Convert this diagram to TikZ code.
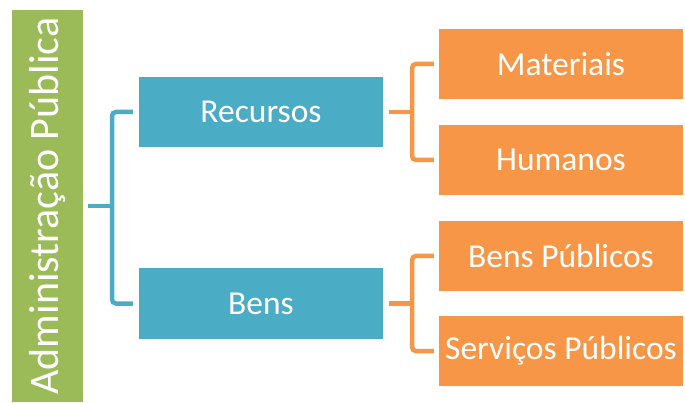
\documentclass[tikz,border=0pt]{standalone}
\usepackage{fontspec}
\setmainfont{Carlito}
\usepackage{tikz}
\usetikzlibrary{calc,positioning}

\definecolor{ofgreen}{HTML}{9BBB59}
\definecolor{ofaqua}{HTML}{4BACC6}
\definecolor{oforange}{HTML}{F79646}

\tikzset{
  rootbox/.style={fill=ofgreen, text=white, minimum width=71, minimum height=392,
    inner sep=0, font=\fontsize{42}{48}\selectfont},
  midbox/.style={fill=ofaqua, text=white, minimum width=244, minimum height=70,
    inner sep=0, font=\fontsize{33.5}{40}\selectfont},
  leafbox/.style={fill=oforange, text=white, minimum width=244, minimum height=70,
    inner sep=0, font=\fontsize{33.5}{40}\selectfont},
  aqualink/.style={draw=ofaqua, line width=4.5, rounded corners=4},
  orangelink/.style={draw=oforange, line width=4.5, rounded corners=4}
}

\begin{document}
\begin{tikzpicture}[x=1pt, y=-1pt]
			\useasboundingbox (0,0) rectangle (685,403);
			
			% Root bar
			\node[rootbox] (admin) at (47.5,206) {\rotatebox{90}{Administração Pública}};
			
			% Second level
			\node[midbox] (recursos) at (261,112) {Recursos};
			\node[midbox] (bens) at (261,303.5) {Bens};
			
			% Leaves
			\node[leafbox] (materiais) at (561,64) {Materiais};
			\node[leafbox] (humanos) at (561,160) {Humanos};
			\node[leafbox] (benspub) at (561,256) {Bens Públicos};
			\node[leafbox] (servicos) at (561,351) {Serviços Públicos};
			
			% Bracket from the root
			\coordinate (aspine) at (112,0);
			\draw[aqualink] ([xshift=5]admin.east) -- (aspine |- admin.east);
			\draw[aqualink] ([xshift=-6]recursos.west) -| (aspine |- bens.west)
			  -- ([xshift=-6]bens.west);
			
			% Brackets to the leaves
			\coordinate (ospine) at (412,0);
			\draw[orangelink] ([xshift=6]recursos.east) -- (ospine |- recursos.east);
			\draw[orangelink] ([xshift=-5]materiais.west) -| (ospine |- humanos.west)
			  -- ([xshift=-5]humanos.west);
			\draw[orangelink] ([xshift=6]bens.east) -- (ospine |- bens.east);
			\draw[orangelink] ([xshift=-5]benspub.west) -| (ospine |- servicos.west)
			  -- ([xshift=-5]servicos.west);
		\end{tikzpicture}
\end{document}
